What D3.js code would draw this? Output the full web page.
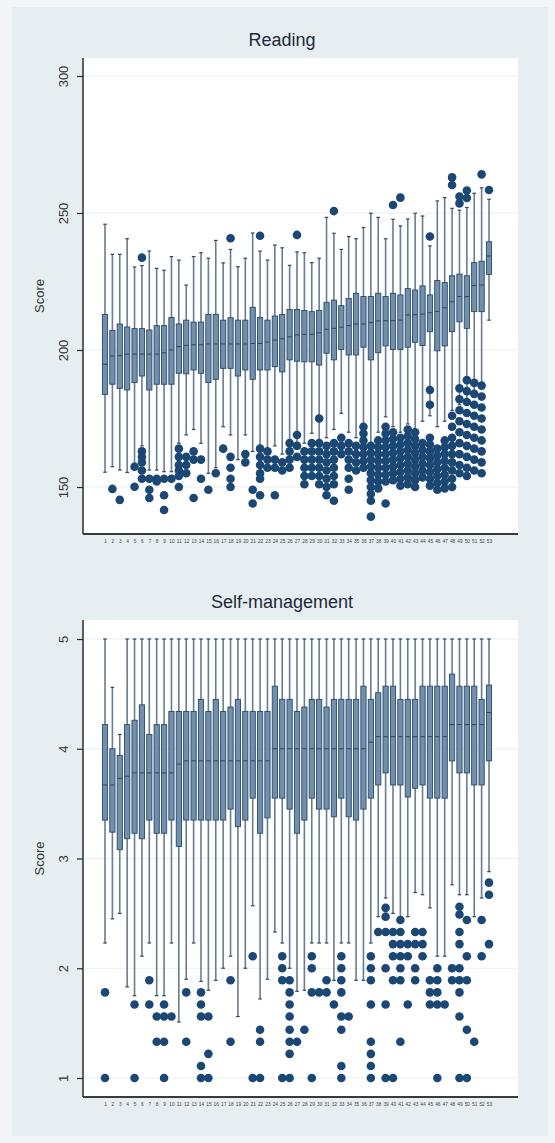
<!DOCTYPE html>
<html>
<head>
<meta charset="utf-8">
<script src="https://cdn.jsdelivr.net/npm/d3@7"></script>
<style>
  body { margin: 0; background: #f3f6f7; }
  svg { display: block; }
</style>
</head>
<body>
<div id="chart"></div>
<script>
// groups 1..53
var groups = d3.range(1, 54);

// Reading: whisker low, q1, median, q3, whisker high
var readLow = [155.4,157.4,156.2,155.3,158.6,165,156.2,156.2,155.6,155.6,166,169,171,166,155,157,172,169,160,169,163,157,163,165,162,160,165,
  166,169.6,165,168,171,176.9,170,168,172,166,170,175.6,172,170,173,171,174,176,172,174,178,180,182,185,186,210.9];
var readQ1 = [183.8,187.5,186.0,185.4,188.1,190.5,185.4,187.5,187.5,187.5,191.5,191.3,192.7,191.5,188.1,189.3,193.3,193.3,190.5,192.7,189.3,192.7,192.7,193.9,192.0,196.4,195.9,
  195.7,195.7,194.5,198.8,196.4,200.2,198.2,198.2,201.0,196.4,199.0,201.5,200.2,200.2,201.0,202.8,201.6,206.7,199.7,201.5,206.7,210.3,207.9,214.0,214.0,227.6];
var readMed = [194.8,197.8,197.9,198.5,198.5,198.5,198.5,198.5,199.0,200.0,201.2,201.7,201.9,201.9,202.2,202.2,202.2,202.2,202.2,202.2,202.4,202.4,202.9,203.6,204.1,204.8,205.5,
  205.7,205.7,206.3,207.6,207.9,208.3,208.9,209.5,209.5,210.0,210.6,210.7,210.7,210.9,212.8,212.9,213.1,213.6,214.1,215.4,217.6,219.5,219.5,223.5,223.7,234.3];
var readQ3 = [213.0,207.1,209.5,208.4,207.8,207.8,207.3,208.9,208.9,211.9,209.5,210.9,210.2,210.2,213.0,213.0,210.9,211.8,210.9,210.9,215.6,211.9,210.9,212.4,213.0,214.8,214.8,
  214.4,214.0,214.4,217.4,218.2,216.2,218.8,220.7,219.5,219.5,220.7,219.5,220.7,220.1,222.4,221.9,223.4,220.1,225.4,224.6,227.1,227.7,227.1,231.9,232.4,239.5];
var readHigh = [245.9,234.9,234.9,240.6,230.3,230.8,236.1,229.8,229.1,234.1,232.8,223.7,234.1,235.5,233.5,240.0,231.8,236.7,230.4,233.5,242.7,236.1,232.8,238.3,237.3,230.9,235.8,
  235.5,231.9,233.5,248.4,242.6,236.7,241.4,240.6,244.7,249.9,248.4,240.6,247.7,245.3,247.8,249.9,248.9,238.0,254.4,255.6,251.7,251.0,252.0,257.2,259.2,255.0];
var readOut = [
  [], [149.3], [145.3], [], [157.4,150.1], [233.7,163,161,159,156,153], [153,149,146], [153,152], [153,147,141.6], [153],
  [164,161,158,156,154,150], [161,158,155], [163,160,146], [160,153], [149], [155], [164], [240.8,161,157,153,150], [], [162,159],
  [149,144], [241.7,164,161,158,155,153,147], [163,160,157], [160,157,147], [159,156], [166,163,160,157], [242.0,169,165,161],
  [163,160,157,154,151], [166,163,160,157,154], [175,166,163,160,157,154,151], [165,162,159,156,153,150,147], [250.7,166,163,160,157,154,151,145],
  [168,165,162], [166,163,160,157,153,149], [165,162,159,156], [172,169.5,167,164.5,162,159.5,157], [165,162.5,160,157.5,155,152.5,150,147.5,145,139.2],
  [167,164.5,162,159.5,157,154.5,152,149.5], [172,169.5,167,164.5,162,159.5,157,154.5,152,144], [252.9,170,167.5,165,162.5,160,157.5,155,152.5],
  [255.6,168,165.5,163,160.5,158,155.5,153,150.5], [171,168.5,166,163.5,161,158.5,156,153.5,151], [170,167.5,165,162.5,160,157.5,155,152.5,150],
  [166,163.5,161,158.5,156,153.5], [241.4,185.4,180,168,165.5,163,160.5,158,155.5,153,150.5],
  [164,161.5,159,156.5,154,151.5,149], [167,164.5,162,159.5,157,154.5,152,149.5], [263.0,260.2,176,172,168,165,162,159,156,153,150],
  [256.0,253.5,186,182,178,174,170,166,162,158,155], [258.2,255.5,189,185,181,177,173,169,165,161,157,154],
  [188,184,180,176,172,168,164,160,156], [264.1,187,183,179,175,171,167,163,159,155], [258.4]
];

// Self-management
var smLow = [2.23,2.45,2.50,1.83,1.75,2.11,2.23,1.75,1.75,2.23,1.51,1.90,2.23,1.88,1.80,1.89,2.0,2.11,1.56,2.0,2.57,1.72,1.90,2.33,2.23,2.0,1.79,
  1.80,2.23,2.23,2.23,1.89,2.23,2.23,1.89,1.89,2.23,2.47,2.64,2.5,2.42,2.47,2.69,2.67,2.55,2.11,2.11,2.76,2.67,2.67,2.47,2.64,2.88];
var smQ1 = [3.35,3.24,3.08,3.18,3.23,3.18,3.35,3.23,3.23,3.35,3.11,3.35,3.35,3.35,3.35,3.35,3.35,3.45,3.29,3.35,3.55,3.23,3.37,3.55,3.55,3.45,3.23,
  3.35,3.55,3.45,3.45,3.38,3.55,3.38,3.35,3.45,3.55,3.67,3.78,3.67,3.67,3.56,3.64,3.67,3.55,3.55,3.55,3.89,3.78,3.78,3.67,3.67,3.89];
var smMed = [3.67,3.67,3.73,3.75,3.78,3.78,3.78,3.78,3.78,3.78,3.86,3.89,3.89,3.89,3.89,3.89,3.89,3.89,3.89,3.89,3.89,3.89,3.89,4.0,4.0,4.0,4.0,
  4.0,4.0,4.0,4.0,4.0,4.0,4.0,4.0,4.0,4.06,4.11,4.11,4.11,4.11,4.11,4.11,4.11,4.11,4.11,4.11,4.22,4.22,4.22,4.22,4.22,4.33];
var smQ3 = [4.22,4.0,3.94,4.22,4.26,4.40,4.13,4.22,4.22,4.34,4.34,4.34,4.34,4.45,4.34,4.45,4.34,4.38,4.45,4.34,4.34,4.34,4.34,4.57,4.45,4.45,4.34,
  4.38,4.45,4.45,4.38,4.45,4.45,4.45,4.45,4.57,4.45,4.51,4.57,4.57,4.45,4.45,4.45,4.57,4.57,4.57,4.57,4.68,4.57,4.57,4.57,4.45,4.58];
var smHigh = [5,4.56,4.13,5,5,5,5,5,5,5,5,5,5,5,5,5,5,5,5,5,5,5,5,5,5,5,5,
  5,5,5,5,5,5,5,5,5,5,5,5,5,5,5,5,5,5,5,5,5,5,5,5,5,5];
var smOut = [
  [1.78,1.0], [], [], [], [1.67,1.0], [], [1.89,1.67], [1.56,1.33], [1.67,1.56,1.33,1.0], [1.56],
  [], [1.78,1.33], [], [1.78,1.67,1.56,1.11,1.0], [1.56,1.22,1.0], [], [], [1.89,1.33], [], [],
  [2.11,1.0], [1.44,1.33,1.0], [], [], [2.11,2.0,1.89,1.0], [1.89,1.78,1.67,1.56,1.44,1.33,1.22,1.0], [1.33],
  [1.44], [2.11,2.0,1.78,1.0], [1.78], [1.89,1.78], [1.67], [2.11,2.0,1.89,1.78,1.56,1.44,1.11,1.0], [1.56], [], [],
  [2.11,2.0,1.89,1.67,1.33,1.22,1.11,1.0], [2.33], [2.55,2.47,2.33,2.0,1.67,1.0], [2.33,2.22,2.11,1.89,1.0], [2.44,2.33,2.22,2.11,2.0,1.89,1.33],
  [2.22,2.11,1.67], [2.33,2.22,2.0,1.89], [2.33,2.22,2.11], [1.89,1.78,1.67], [2.0,1.89,1.78,1.67,1.0], [1.67], [2.0,1.89],
  [2.56,2.49,2.33,2.22,2.0,1.89,1.78,1.56,1.0], [2.44,2.11,1.89,1.44,1.0], [1.33], [2.44,2.11], [2.78,2.67,2.22]
];

var readTicks = [150, 200, 250, 300];
var smTicks = [1, 2, 3, 4, 5];

var width = 555, height = 1143;

var svg = d3.select("#chart").append("svg")
    .attr("width", width)
    .attr("height", height);

svg.append("rect")
    .attr("x", 12).attr("y", 7)
    .attr("width", 536).attr("height", 1129)
    .attr("fill", "#e7eef1");

function drawPanel(opt) {
  var x = d3.scalePoint()
      .domain(groups)
      .range([105, 489]);

  var y = d3.scaleLinear()
      .domain(opt.domain)
      .range(opt.yrange);

  var g = svg.append("g");

  g.append("rect")
      .attr("x", 83).attr("y", opt.top)
      .attr("width", 518 - 83).attr("height", opt.bottom - opt.top)
      .attr("fill", "#ffffff");

  // grid
  g.selectAll(".grid").data(opt.ticks).enter().append("line")
      .attr("x1", 84).attr("x2", 518)
      .attr("y1", function(d) { return y(d); })
      .attr("y2", function(d) { return y(d); })
      .attr("stroke", "#eaeff2")
      .attr("stroke-width", 1);

  g.append("text")
      .attr("x", 282).attr("y", opt.top - 12)
      .attr("text-anchor", "middle")
      .attr("font-family", "Liberation Sans, Arial, sans-serif")
      .attr("font-size", 18)
      .attr("fill", "#1e2a38")
      .text(opt.title);

  var data = groups.map(function(k, i) {
    return { k: k, lo: opt.lo[i], q1: opt.q1[i], med: opt.med[i], q3: opt.q3[i], hi: opt.hi[i], out: opt.out[i] };
  });

  var box = g.selectAll(".box").data(data).enter().append("g")
      .attr("transform", function(d) { return "translate(" + x(d.k) + ",0)"; });

  // whiskers
  box.append("line")
      .attr("y1", function(d) { return y(d.lo); })
      .attr("y2", function(d) { return y(d.hi); })
      .attr("stroke", "#687d90")
      .attr("stroke-width", 1.6);

  box.selectAll(".cap").data(function(d) { return [d.lo, d.hi]; }).enter().append("line")
      .attr("x1", -1.8).attr("x2", 1.8)
      .attr("y1", function(v) { return y(v); })
      .attr("y2", function(v) { return y(v); })
      .attr("stroke", "#2f475e")
      .attr("stroke-width", 1.2);

  box.append("rect")
      .attr("x", -2.6).attr("width", 5.2)
      .attr("y", function(d) { return y(d.q3); })
      .attr("height", function(d) { return y(d.q1) - y(d.q3); })
      .attr("fill", "#7190ad")
      .attr("stroke", "#2a4866")
      .attr("stroke-width", 0.9);

  box.append("line")
      .attr("x1", -2.2).attr("x2", 2.2)
      .attr("y1", function(d) { return y(d.med); })
      .attr("y2", function(d) { return y(d.med); })
      .attr("stroke", "#2a4866")
      .attr("stroke-width", 1);

  box.selectAll(".pt").data(function(d) { return d.out; }).enter().append("circle")
      .attr("cx", 0)
      .attr("cy", function(v) { return y(v); })
      .attr("r", 4.3)
      .attr("fill", "#1b4774");

  // y axis
  var yAxis = g.append("g")
      .attr("transform", "translate(83,0)")
      .call(d3.axisLeft(y).tickValues(opt.ticks).tickSize(6).tickFormat(d3.format("d")));
  yAxis.select(".domain").attr("d", "M0," + opt.top + "V" + opt.bottom)
      .attr("stroke", "#2b2b2b").attr("stroke-width", 1.5);
  yAxis.selectAll(".tick line").attr("stroke", "#2b2b2b").attr("stroke-width", 1.2);
  yAxis.selectAll(".tick text")
      .attr("transform", "rotate(-90)")
      .attr("x", 0).attr("y", -15)
      .attr("dy", 0)
      .attr("text-anchor", "middle")
      .attr("font-family", "Liberation Sans, Arial, sans-serif")
      .attr("font-size", 13)
      .attr("fill", "#333");

  // x axis
  var xAxis = g.append("g")
      .attr("transform", "translate(0," + opt.bottom + ")")
      .call(d3.axisBottom(x).tickSize(0).tickPadding(6));
  xAxis.select(".domain").attr("d", "M83,0H518")
      .attr("stroke", "#3a3a3a").attr("stroke-width", 2);
  xAxis.selectAll(".tick text")
      .attr("font-family", "Liberation Sans, Arial, sans-serif")
      .attr("font-size", 4.8)
      .attr("fill", "#444");

  g.append("text")
      .attr("transform", "translate(44," + ((opt.top + opt.bottom) / 2) + ") rotate(-90)")
      .attr("text-anchor", "middle")
      .attr("font-family", "Liberation Sans, Arial, sans-serif")
      .attr("font-size", 13)
      .attr("fill", "#333")
      .text("Score");
}

drawPanel({
  title: "Reading", top: 58, bottom: 534,
  domain: [150, 300], yrange: [487, 76], ticks: readTicks,
  lo: readLow, q1: readQ1, med: readMed, q3: readQ3, hi: readHigh, out: readOut
});

drawPanel({
  title: "Self-management", top: 620, bottom: 1097,
  domain: [1, 5], yrange: [1078, 639], ticks: smTicks,
  lo: smLow, q1: smQ1, med: smMed, q3: smQ3, hi: smHigh, out: smOut
});
</script>
</body>
</html>
